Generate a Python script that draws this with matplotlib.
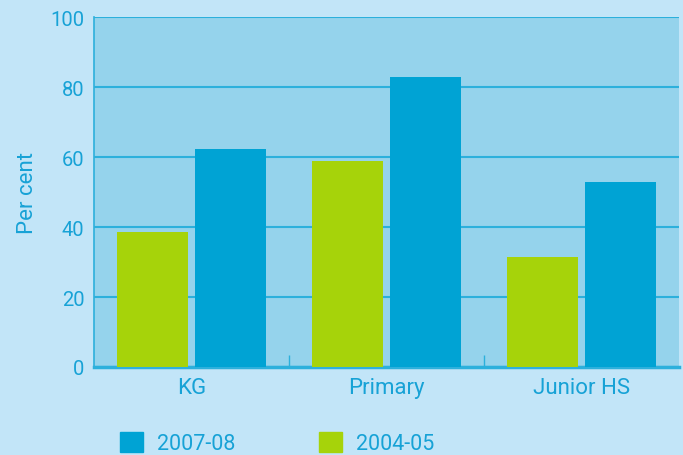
import matplotlib
matplotlib.use("Agg")
import matplotlib.pyplot as plt
import numpy as np
from matplotlib.patches import Patch

# data
categories = ["KG", "Primary", "Junior HS"]
vals_0405 = [38.5, 59.0, 31.5]
vals_0708 = [62.3, 83.0, 53.0]
yticks = [0, 20, 40, 60, 80, 100]

fig_bg = "#c2e5f8"
ax_bg = "#95d3ec"
text_c = "#17a2d6"
line_c = "#2cb0dc"
green = "#a6d30a"
blue = "#00a3d4"

plt.rcParams["font.family"] = ["Roboto", "DejaVu Sans"]

fig = plt.figure(figsize=(6.83, 4.56), dpi=100, facecolor=fig_bg)
ax = fig.add_axes([94 / 683, 88 / 456, 585 / 683, 350 / 456])
ax.set_facecolor(ax_bg)

x = np.arange(len(categories))
w = 0.36
ax.bar(x - 0.2, vals_0405, w, color=green, zorder=3)
ax.bar(x + 0.2, vals_0708, w, color=blue, zorder=3)

ax.set_xlim(-0.5, 2.5)
ax.set_ylim(0, 100)
ax.set_yticks(yticks)
ax.yaxis.grid(True, color=line_c, linewidth=1.5, zorder=1)
ax.set_axisbelow(True)

ax.set_xticks(x)
ax.set_xticklabels(categories)
ax.set_xticks([0.5, 1.5], minor=True)
ax.tick_params(axis="x", which="major", length=0, pad=7, labelsize=16, labelcolor=text_c)
ax.tick_params(axis="x", which="minor", length=9, width=1, color=line_c, direction="in")
ax.tick_params(axis="y", length=0, pad=7, labelsize=14.5, labelcolor=text_c)

for s in ["top", "right"]:
    ax.spines[s].set_visible(False)
ax.spines["left"].set_color(line_c)
ax.spines["left"].set_linewidth(1.2)
ax.spines["bottom"].set_color(line_c)
ax.spines["bottom"].set_linewidth(2.5)

ax.set_ylabel("Per cent", color=text_c, fontsize=16, labelpad=9)

handles = [Patch(color=blue, label="2007-08"), Patch(color=green, label="2004-05")]
fig.legend(handles=handles, loc="upper left", bbox_to_anchor=(120 / 683, 1 - 433 / 456),
           ncol=2, frameon=False, fontsize=15.5, labelcolor=text_c,
           handlelength=1.07, handleheight=1.07, handletextpad=0.65,
           columnspacing=3.9, borderpad=0, borderaxespad=0)

fig.savefig("out.png", dpi=100, facecolor=fig_bg)
